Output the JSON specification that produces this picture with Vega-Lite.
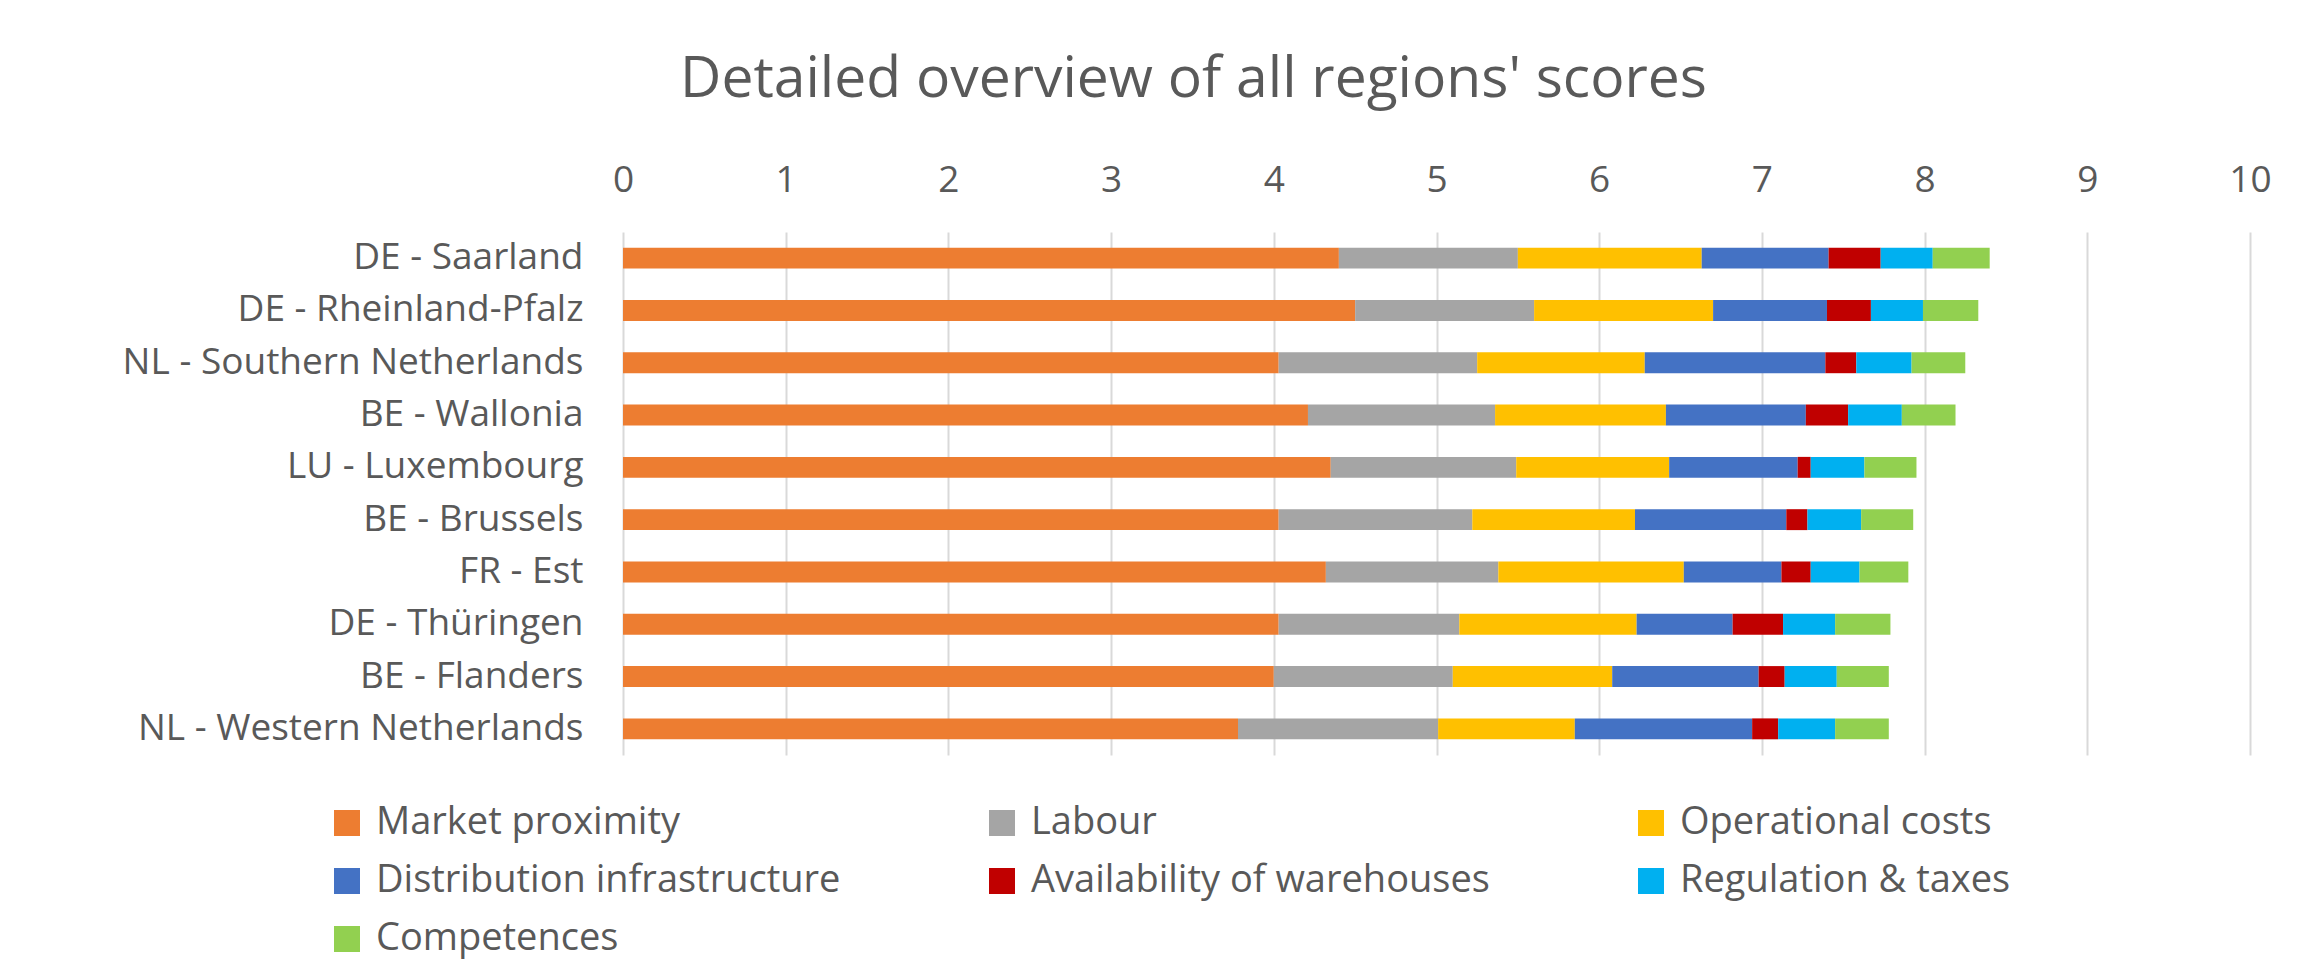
{
  "$schema": "https://vega.github.io/schema/vega-lite/v6.json",
  "autosize": {"type": "none"},
  "width": 1627,
  "height": 523,
  "padding": {"left": 623, "top": 232, "right": 73, "bottom": 211},
  "background": "#ffffff",
  "config": {
    "font": "Open Sans",
    "view": {"stroke": null},
    "axis": {"labelFont": "Open Sans", "labelColor": "#595959", "labelFontSize": 37}
  },
  "title": {
    "text": "Detailed overview of all regions' scores",
    "font": "Open Sans",
    "fontSize": 57,
    "fontWeight": "normal",
    "color": "#595959",
    "anchor": "middle",
    "frame": "group",
    "dx": -243,
    "offset": 52
  },
  "data": {
    "values": [
      {"region": "DE - Saarland", "factor": "Market proximity", "k": 1, "score": 4.40},
      {"region": "DE - Saarland", "factor": "Labour", "k": 2, "score": 1.10},
      {"region": "DE - Saarland", "factor": "Operational costs", "k": 3, "score": 1.13},
      {"region": "DE - Saarland", "factor": "Distribution infrastructure", "k": 4, "score": 0.78},
      {"region": "DE - Saarland", "factor": "Availability of warehouses", "k": 5, "score": 0.32},
      {"region": "DE - Saarland", "factor": "Regulation & taxes", "k": 6, "score": 0.32},
      {"region": "DE - Saarland", "factor": "Competences", "k": 7, "score": 0.35},
      {"region": "DE - Rheinland-Pfalz", "factor": "Market proximity", "k": 1, "score": 4.50},
      {"region": "DE - Rheinland-Pfalz", "factor": "Labour", "k": 2, "score": 1.10},
      {"region": "DE - Rheinland-Pfalz", "factor": "Operational costs", "k": 3, "score": 1.10},
      {"region": "DE - Rheinland-Pfalz", "factor": "Distribution infrastructure", "k": 4, "score": 0.70},
      {"region": "DE - Rheinland-Pfalz", "factor": "Availability of warehouses", "k": 5, "score": 0.27},
      {"region": "DE - Rheinland-Pfalz", "factor": "Regulation & taxes", "k": 6, "score": 0.32},
      {"region": "DE - Rheinland-Pfalz", "factor": "Competences", "k": 7, "score": 0.34},
      {"region": "NL - Southern Netherlands", "factor": "Market proximity", "k": 1, "score": 4.03},
      {"region": "NL - Southern Netherlands", "factor": "Labour", "k": 2, "score": 1.22},
      {"region": "NL - Southern Netherlands", "factor": "Operational costs", "k": 3, "score": 1.03},
      {"region": "NL - Southern Netherlands", "factor": "Distribution infrastructure", "k": 4, "score": 1.11},
      {"region": "NL - Southern Netherlands", "factor": "Availability of warehouses", "k": 5, "score": 0.19},
      {"region": "NL - Southern Netherlands", "factor": "Regulation & taxes", "k": 6, "score": 0.34},
      {"region": "NL - Southern Netherlands", "factor": "Competences", "k": 7, "score": 0.33},
      {"region": "BE - Wallonia", "factor": "Market proximity", "k": 1, "score": 4.21},
      {"region": "BE - Wallonia", "factor": "Labour", "k": 2, "score": 1.15},
      {"region": "BE - Wallonia", "factor": "Operational costs", "k": 3, "score": 1.05},
      {"region": "BE - Wallonia", "factor": "Distribution infrastructure", "k": 4, "score": 0.86},
      {"region": "BE - Wallonia", "factor": "Availability of warehouses", "k": 5, "score": 0.26},
      {"region": "BE - Wallonia", "factor": "Regulation & taxes", "k": 6, "score": 0.33},
      {"region": "BE - Wallonia", "factor": "Competences", "k": 7, "score": 0.33},
      {"region": "LU - Luxembourg", "factor": "Market proximity", "k": 1, "score": 4.35},
      {"region": "LU - Luxembourg", "factor": "Labour", "k": 2, "score": 1.14},
      {"region": "LU - Luxembourg", "factor": "Operational costs", "k": 3, "score": 0.94},
      {"region": "LU - Luxembourg", "factor": "Distribution infrastructure", "k": 4, "score": 0.79},
      {"region": "LU - Luxembourg", "factor": "Availability of warehouses", "k": 5, "score": 0.08},
      {"region": "LU - Luxembourg", "factor": "Regulation & taxes", "k": 6, "score": 0.33},
      {"region": "LU - Luxembourg", "factor": "Competences", "k": 7, "score": 0.32},
      {"region": "BE - Brussels", "factor": "Market proximity", "k": 1, "score": 4.03},
      {"region": "BE - Brussels", "factor": "Labour", "k": 2, "score": 1.19},
      {"region": "BE - Brussels", "factor": "Operational costs", "k": 3, "score": 1.00},
      {"region": "BE - Brussels", "factor": "Distribution infrastructure", "k": 4, "score": 0.93},
      {"region": "BE - Brussels", "factor": "Availability of warehouses", "k": 5, "score": 0.13},
      {"region": "BE - Brussels", "factor": "Regulation & taxes", "k": 6, "score": 0.33},
      {"region": "BE - Brussels", "factor": "Competences", "k": 7, "score": 0.32},
      {"region": "FR - Est", "factor": "Market proximity", "k": 1, "score": 4.32},
      {"region": "FR - Est", "factor": "Labour", "k": 2, "score": 1.06},
      {"region": "FR - Est", "factor": "Operational costs", "k": 3, "score": 1.14},
      {"region": "FR - Est", "factor": "Distribution infrastructure", "k": 4, "score": 0.60},
      {"region": "FR - Est", "factor": "Availability of warehouses", "k": 5, "score": 0.18},
      {"region": "FR - Est", "factor": "Regulation & taxes", "k": 6, "score": 0.30},
      {"region": "FR - Est", "factor": "Competences", "k": 7, "score": 0.30},
      {"region": "DE - Thüringen", "factor": "Market proximity", "k": 1, "score": 4.03},
      {"region": "DE - Thüringen", "factor": "Labour", "k": 2, "score": 1.11},
      {"region": "DE - Thüringen", "factor": "Operational costs", "k": 3, "score": 1.09},
      {"region": "DE - Thüringen", "factor": "Distribution infrastructure", "k": 4, "score": 0.59},
      {"region": "DE - Thüringen", "factor": "Availability of warehouses", "k": 5, "score": 0.31},
      {"region": "DE - Thüringen", "factor": "Regulation & taxes", "k": 6, "score": 0.32},
      {"region": "DE - Thüringen", "factor": "Competences", "k": 7, "score": 0.34},
      {"region": "BE - Flanders", "factor": "Market proximity", "k": 1, "score": 4.00},
      {"region": "BE - Flanders", "factor": "Labour", "k": 2, "score": 1.10},
      {"region": "BE - Flanders", "factor": "Operational costs", "k": 3, "score": 0.98},
      {"region": "BE - Flanders", "factor": "Distribution infrastructure", "k": 4, "score": 0.90},
      {"region": "BE - Flanders", "factor": "Availability of warehouses", "k": 5, "score": 0.16},
      {"region": "BE - Flanders", "factor": "Regulation & taxes", "k": 6, "score": 0.32},
      {"region": "BE - Flanders", "factor": "Competences", "k": 7, "score": 0.32},
      {"region": "NL - Western Netherlands", "factor": "Market proximity", "k": 1, "score": 3.78},
      {"region": "NL - Western Netherlands", "factor": "Labour", "k": 2, "score": 1.23},
      {"region": "NL - Western Netherlands", "factor": "Operational costs", "k": 3, "score": 0.84},
      {"region": "NL - Western Netherlands", "factor": "Distribution infrastructure", "k": 4, "score": 1.09},
      {"region": "NL - Western Netherlands", "factor": "Availability of warehouses", "k": 5, "score": 0.16},
      {"region": "NL - Western Netherlands", "factor": "Regulation & taxes", "k": 6, "score": 0.35},
      {"region": "NL - Western Netherlands", "factor": "Competences", "k": 7, "score": 0.33}
    ]
  },
  "mark": {"type": "bar"},
  "encoding": {
    "y": {
      "field": "region",
      "type": "nominal",
      "sort": ["DE - Saarland", "DE - Rheinland-Pfalz", "NL - Southern Netherlands", "BE - Wallonia", "LU - Luxembourg", "BE - Brussels", "FR - Est", "DE - Thüringen", "BE - Flanders", "NL - Western Netherlands"],
      "scale": {"paddingInner": 0.6, "paddingOuter": 0.3},
      "axis": {"title": null, "ticks": false, "domain": false, "labelPadding": 40, "labelLimit": 600}
    },
    "x": {
      "field": "score",
      "type": "quantitative",
      "stack": "zero",
      "scale": {"domain": [0, 10], "nice": false},
      "axis": {
        "orient": "top",
        "title": null,
        "values": [0, 1, 2, 3, 4, 5, 6, 7, 8, 9, 10],
        "ticks": false,
        "domain": false,
        "labelPadding": 33,
        "grid": true,
        "gridColor": "#D9D9D9",
        "gridWidth": 2,
        "labelFlush": false
      }
    },
    "order": {"field": "k", "type": "quantitative", "sort": "ascending"},
    "color": {
      "field": "factor",
      "type": "nominal",
      "scale": {
        "domain": ["Market proximity", "Labour", "Operational costs", "Distribution infrastructure", "Availability of warehouses", "Regulation & taxes", "Competences"],
        "range": ["#ED7D31", "#A5A5A5", "#FFC000", "#4472C4", "#C00000", "#00B0F0", "#92D050"]
      },
      "legend": {
        "title": null,
        "orient": "none",
        "legendX": -295,
        "legendY": 572,
        "direction": "horizontal",
        "columns": 3,
        "columnPadding": 142,
        "rowPadding": 20,
        "padding": 0,
        "symbolType": "square",
        "symbolSize": 676,
        "symbolStrokeWidth": 0,
        "labelFont": "Open Sans",
        "labelFontSize": 38,
        "labelColor": "#595959",
        "labelOffset": 10,
        "labelLimit": 700
      }
    }
  }
}
